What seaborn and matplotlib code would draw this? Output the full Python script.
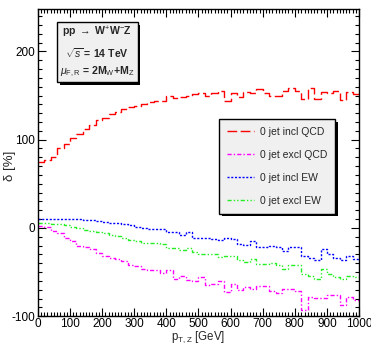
import numpy as np
import pandas as pd
import matplotlib
matplotlib.use('Agg')
import matplotlib.pyplot as plt
import matplotlib.patheffects as pe
from matplotlib.ticker import MultipleLocator
import seaborn as sns

# bin edges in p_T,Z (20 GeV bins)
edges = np.arange(0, 1001, 20)

incl_qcd = [75, 77, 80, 90, 95, 102, 106, 112, 117, 122,
            124, 129, 131, 135, 137, 138, 140, 143, 144, 144,
            150, 147, 148, 149, 152, 153, 150, 153, 155, 144,
            153, 148, 154, 153, 157, 153, 150, 150, 155, 158,
            155, 146, 158, 146, 154, 153, 155, 145, 154, 152]

excl_qcd = [2, 1.5, -3, -5.6, -11, -15, -20.6, -21.7, -24.4, -28,
            -31.8, -33.7, -35.6, -37.5, -42, -43, -46, -47.6, -47.6, -50.6,
            -47.6, -57.3, -54.3, -59, -60, -55.4, -64.4, -63, -60, -72,
            -63.7, -70.4, -66.7, -69, -65.5, -65.5, -71, -74, -69, -69,
            -71, -93, -77.9, -79, -79, -75.7, -75.7, -86.9, -77.9, -81.7]

incl_ew = [10.5, 10.5, 10.5, 10.5, 10.5, 10.5, 10, 9, 9, 7.5,
           7, 5.2, 5.2, 4.5, 3, 1.5, 0, -1.5, -1.5, -1.5,
           -4.5, -4.5, -7.5, -5, -11, -11, -11, -13, -14, -11.5,
           -13, -18, -19.5, -14.5, -21.7, -21.7, -20.6, -21.7, -26, -21.7,
           -21.7, -32, -34, -36.7, -24.3, -29, -34.5, -36.7, -32, -35.5]

excl_ew = [5.2, 5.2, 4.5, 4.5, 3, 1.5, 0, -2.2, -3.7, -5,
           -5.8, -8.2, -9, -11, -13.5, -14.6, -16.5, -17.2, -17.2, -18.7,
           -22.5, -22.5, -25.5, -23, -27, -29, -29, -30, -33, -32,
           -32, -36.7, -38, -34.8, -40.4, -41, -39.3, -41.9, -46.8, -42,
           -42, -51.7, -54.3, -58, -46, -52.4, -56, -58, -54.3, -56]

series = {
    '0 jet incl QCD': (incl_qcd, '#ff0000', (0, (7, 2.5))),
    '0 jet excl QCD': (excl_qcd, '#ff00ff', (0, (3, 1.5, 1, 1.5))),
    '0 jet incl EW': (incl_ew, '#0000ff', (0, (1.5, 1.2))),
    '0 jet excl EW': (excl_ew, '#22ee22', (0, (3, 1.5, 1, 1.5, 1, 1.5))),
}

sns.set_style('ticks')
plt.rcParams['font.family'] = ['Liberation Sans', 'DejaVu Sans']
plt.rcParams['mathtext.fontset'] = 'custom'
plt.rcParams['mathtext.rm'] = 'Liberation Sans'
plt.rcParams['mathtext.it'] = 'Liberation Sans:italic'
plt.rcParams['mathtext.bf'] = 'Liberation Sans:bold'
plt.rcParams['axes.unicode_minus'] = False

fig = plt.figure(figsize=(3.71, 3.46), dpi=100)
ax = fig.add_axes([0.102, 0.086, 0.866, 0.888])

for name, (vals, col, ls) in series.items():
    # repeat the last bin value so the final step reaches the right edge
    df = pd.DataFrame({'pt': edges, 'delta': list(vals) + [vals[-1]]})
    sns.lineplot(data=df, x='pt', y='delta', ax=ax, color=col, linewidth=1.0,
                 linestyle=ls, drawstyle='steps-post', label=name, legend=False)

ax.set_xlim(0, 1000)
ax.set_ylim(-100, 248)
ax.xaxis.set_major_locator(MultipleLocator(100))
ax.xaxis.set_minor_locator(MultipleLocator(10))
ax.yaxis.set_major_locator(MultipleLocator(100))
ax.yaxis.set_minor_locator(MultipleLocator(10))
ax.tick_params(which='both', direction='in', top=True, right=True,
               labelsize=8.5, colors='black', width=0.8, pad=2)
ax.tick_params(axis='x', which='both', pad=1)
ax.tick_params(which='major', length=6)
ax.tick_params(which='minor', length=3)
for s in ax.spines.values():
    s.set_linewidth(1.0)
    s.set_color('black')

ax.set_xlabel(r'p$_{\rm T,Z}$ [GeV]', fontsize=8.3)
ax.set_ylabel('δ [%]', fontsize=9.5)
ax.xaxis.set_label_coords(0.5, -0.043)
ax.yaxis.set_label_coords(-0.068, 0.49)

shadow = [pe.SimplePatchShadow(offset=(2, -2), shadow_rgbFace='black', alpha=1),
          pe.Normal()]

txt = ax.text(0.185, 0.86,
              'pp $\\rightarrow$ W$^{+}$W$^{-}$Z\n$\\sqrt{s}$ = 14 TeV\n'
              '$\\mu_{\\rm F,R}$ = 2M$_{\\rm W}$+M$_{\\rm Z}$',
              transform=ax.transAxes, ha='center', va='center',
              fontsize=7.6, fontweight='bold', linespacing=1.5,
              bbox=dict(boxstyle='square,pad=0.3', facecolor='#f0f0f0',
                        edgecolor='black', linewidth=1.0))
txt.get_bbox_patch().set_path_effects(shadow)

leg = ax.legend(loc='upper left', bbox_to_anchor=(0.564, 0.642),
                borderaxespad=0, fontsize=7.5, frameon=True, fancybox=False,
                facecolor='#f0f0f0', edgecolor='black', framealpha=1,
                handlelength=2.6, handletextpad=0.6, labelspacing=1.25,
                borderpad=0.75)
leg.get_frame().set_linewidth(1.0)
leg.get_frame().set_path_effects(shadow)

fig.savefig('out.png', dpi=100, facecolor='white')
